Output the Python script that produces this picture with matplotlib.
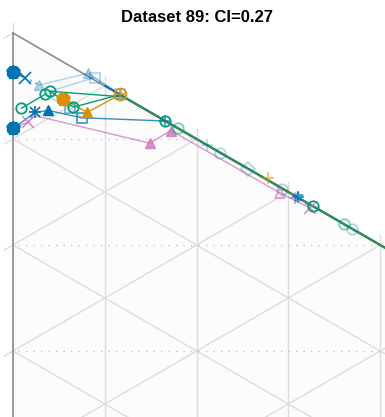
import matplotlib.pyplot as plt
import numpy as np

BLUE = "#0173b2"
ORANGE = "#de8f05"
GREEN = "#029e73"
PINK = "#cc78bc"
DKGREEN = "#2e8b57"

# positions in the simplex plane (one grid step = 1)
# dark blue, upper start
blue_a_x = [0.00, 0.11]
blue_a_y = [-0.37, -0.42]
# light blue trajectories
blue_b_x = [0.11, 0.25]
blue_b_y = [-0.42, -0.49]
blue_c_x = [0.25, 0.71, 1.01]
blue_c_y = [-0.49, -0.38, -0.58]
blue_d_x = [0.35, 0.77, 1.01]
blue_d_y = [-0.55, -0.42, -0.58]
blue_e_x = [0.30, 0.54, 0.65]
blue_e_y = [-0.58, -0.71, -0.80]
# dark blue, lower start
blue_f_x = [0.00, 0.21, 0.33, 0.65, 1.43]
blue_f_y = [-0.90, -0.75, -0.73, -0.80, -0.83]
blue_g_x = [0.87, 1.01]
blue_g_y = [-0.50, -0.58]
# light blue points on the edge
blue_pts_x = [1.83, 1.95, 2.22, 2.54, 3.20]
blue_pts_y = [-1.06, -1.13, -1.28, -1.47, -1.85]
blue_pts_m = ["+", "o", "D", "o", "o"]

orange_x = [0.47, 0.70, 1.01]
orange_y = [-0.62, -0.75, -0.58]

green_a_x = [0.08, 0.30]
green_a_y = [-0.71, -0.58]
green_b_x = [0.35, 0.57, 1.01]
green_b_y = [-0.55, -0.70, -0.58]
green_c_x = [0.35, 1.01]
green_c_y = [-0.55, -0.60]
edge_x = [1.01, 1.43, 2.83, 3.70]
edge_y = [-0.583, -0.826, -1.634, -2.136]
green_pts_x = [1.56, 3.12]
green_pts_y = [-0.90, -1.80]

pink_x = [0.00, 0.14, 0.21, 1.29, 1.49, 2.52, 2.80]
pink_y = [-0.90, -0.84, -0.78, -1.04, -0.92, -1.51, -1.65]

c30 = np.cos(np.pi / 6)
tick = 0.094
L = 8

fig = plt.figure(figsize=(3.85, 4.17), dpi=100)
ax = fig.add_axes([0, 0, 1, 1])
ax.set_xlim(-13 / 106, 372 / 106)
ax.set_ylim(-384 / 106, 33 / 106)
ax.axis("off")

# triangle background
ax.fill([0, 0, c30 * L], [0, -L, -0.5 * L], color="#fcfcfc", zorder=0)

gc = "#dcdcdc"
for k in range(0, 9):
    # vertical lines (+ tick above the top edge)
    ax.plot([c30 * k, c30 * k], [-0.5 * k + tick, -L], color=gc, lw=1.0, zorder=1)
    # lines going up-right from the left edge (+ tick to the left)
    ax.plot([-c30 * tick, c30 * k], [-k - 0.5 * tick, -0.5 * k], color=gc, lw=1.0, zorder=1)
    # lines going down-right from the left edge
    if k > 0:
        ax.plot([0, c30 * L], [-k, -k - 0.5 * L], color=gc, lw=1.0, zorder=1)

for j in [1, 2, 3]:
    ax.plot([0.05, 2 * c30 * j], [-j, -j], color="#bbbbbb", lw=0.9,
            linestyle=(0, (1, 5)), zorder=1)

ax.plot([0, 0], [0, -L], color="#8c8c8c", lw=1.2, zorder=2)
ax.plot([0, c30 * L], [0, -0.5 * L], color="#8c8c8c", lw=1.2, zorder=2)

light = 0.3
ms = 7.5


def traj(xs, ys, color, alpha=1.0, ls="-", lw=1.0, z=3):
    ax.plot(xs, ys, color=color, alpha=alpha, ls=ls, lw=lw, zorder=z)


def mark(x, y, m, color, alpha=1.0, filled=False, size=ms, z=4):
    if m in ["+", "x"]:
        ax.plot(x, y, m, color=color, alpha=alpha, ms=size + 1, mew=1.2, zorder=z)
    elif filled:
        ax.plot(x, y, m, color=color, alpha=alpha, ms=size, zorder=z)
    else:
        ax.plot(x, y, m, mfc="none", mec=color, alpha=alpha, ms=size, mew=1.3, zorder=z)


def cluster(x, y, color, z=5):
    for m, s in [("o", 7), ("*", 10), ("P", 8), ("X", 8), ("h", 7)]:
        ax.plot(x, y, m, color=color, ms=s, zorder=z)


# light blue trajectories
traj(blue_b_x, blue_b_y, BLUE, light + 0.2, ls=":", lw=1.6)
traj(blue_c_x, blue_c_y, BLUE, light)
traj(blue_d_x, blue_d_y, BLUE, light)
traj(blue_e_x, blue_e_y, BLUE, light)
mark(blue_b_x[1], blue_b_y[1], "^", BLUE, light, filled=True)
mark(blue_c_x[1], blue_c_y[1], "^", BLUE, light, filled=True)
mark(blue_c_x[2], blue_c_y[2], "^", BLUE, light, filled=True)
mark(blue_d_x[1], blue_d_y[1], "s", BLUE, light)
mark(blue_d_x[2], blue_d_y[2], "s", BLUE, light)
mark(blue_e_x[1], blue_e_y[1], "s", BLUE, light + 0.2)
for x, y, m in zip(blue_pts_x, blue_pts_y, blue_pts_m):
    mark(x, y, m, BLUE, light)

# pink
traj(pink_x, pink_y, PINK, 0.75, lw=1.0)
mark(pink_x[1], pink_y[1], "x", PINK, 0.8)
mark(pink_x[3], pink_y[3], "^", PINK, 0.8, filled=True)
mark(pink_x[4], pink_y[4], "^", PINK, 0.8, filled=True)
mark(pink_x[5], pink_y[5], "^", PINK, 0.7)
mark(pink_x[6], pink_y[6], "x", PINK, 0.8)
mark(2.66, -1.56, "+", PINK, 0.7)

# dark blue
traj(blue_a_x, blue_a_y, BLUE)
traj(blue_f_x, blue_f_y, BLUE, 0.8)
traj(blue_g_x, blue_g_y, BLUE, lw=1.5)
mark(blue_a_x[1], blue_a_y[1], "x", BLUE, size=8)
mark(blue_f_x[1], blue_f_y[1], "+", BLUE, size=8)
mark(blue_f_x[1], blue_f_y[1], "x", BLUE, size=6)
mark(blue_f_x[2], blue_f_y[2], "^", BLUE, filled=True)
mark(blue_f_x[3], blue_f_y[3], "s", BLUE, 0.7)
mark(blue_f_x[4], blue_f_y[4], "+", BLUE, 0.7)
mark(2.69, -1.55, "*", BLUE, 0.7)
mark(2.69, -1.55, "+", BLUE, 0.7)

# orange
traj(orange_x, orange_y, ORANGE)
mark(orange_x[1], orange_y[1], "^", ORANGE, filled=True)
mark(orange_x[2], orange_y[2], "o", ORANGE, size=8.5)
mark(orange_x[2], orange_y[2], "+", ORANGE, 0.7)
mark(2.41, -1.37, "+", ORANGE, 0.6)
cluster(orange_x[0], orange_y[0], ORANGE)

# green
traj(green_a_x, green_a_y, GREEN)
traj(green_b_x, green_b_y, GREEN)
traj(green_c_x, green_c_y, GREEN)
traj(edge_x, edge_y, DKGREEN, lw=1.8)
for x, y in zip(green_a_x, green_a_y):
    mark(x, y, "o", GREEN)
for x, y in zip(green_b_x[:2], green_b_y[:2]):
    mark(x, y, "o", GREEN)
mark(edge_x[1], edge_y[1], "o", GREEN)
mark(edge_x[2], edge_y[2], "o", GREEN)
for x, y in zip(green_pts_x, green_pts_y):
    mark(x, y, "o", GREEN, 0.5)

cluster(blue_a_x[0], blue_a_y[0], BLUE)
cluster(blue_f_x[0], blue_f_y[0], BLUE)

fig.text(197 / 385, 1 - 17 / 417, "Dataset 89: CI=0.27", ha="center", va="center",
         fontsize=12, fontweight="bold", family="Liberation Sans")

fig.savefig("out.png", dpi=100)
